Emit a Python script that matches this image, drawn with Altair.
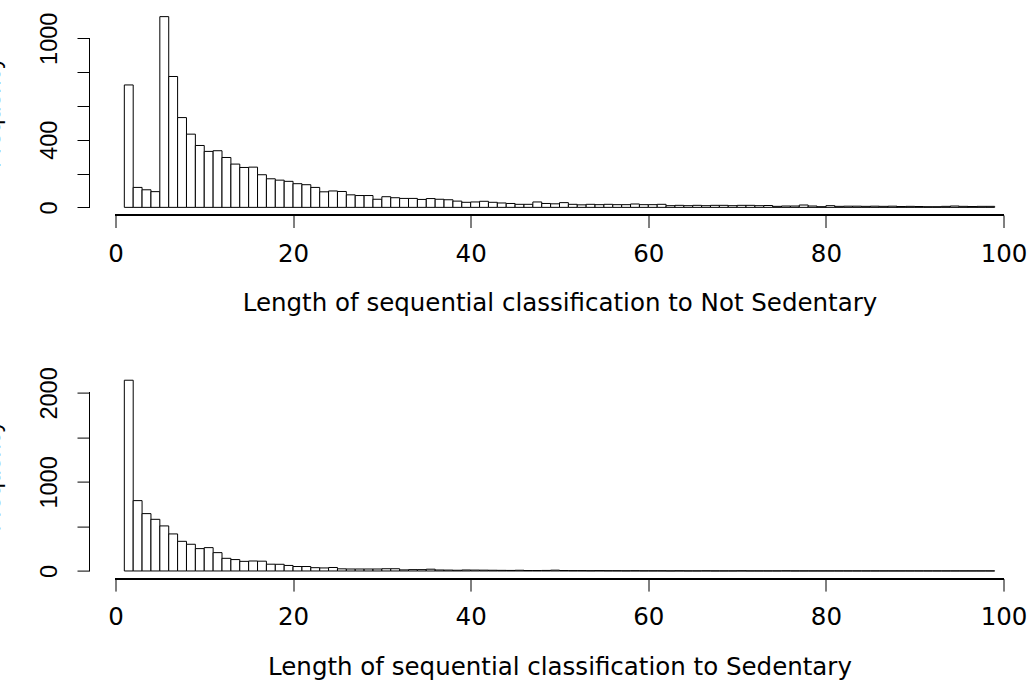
import altair as alt
import pandas as pd

# ---- data ----
bin_starts = list(range(1, 99))  # bins [k, k+1)

top_counts = [
    724, 118, 104, 93, 1128, 774, 531, 433, 366, 331,
    335, 295, 256, 236, 238, 193, 169, 161, 154, 140,
    134, 118, 92, 97, 94, 74, 70, 70, 48, 63,
    57, 53, 53, 47, 52, 48, 45, 37, 30, 32,
    36, 30, 26, 23, 18, 18, 32, 23, 21, 28,
    18, 15, 18, 16, 18, 16, 16, 20, 16, 16,
    18, 10, 12, 10, 12, 10, 12, 12, 10, 12,
    12, 10, 11, 6, 8, 8, 14, 8, 4, 10,
    6, 7, 7, 6, 7, 6, 7, 5, 6, 5,
    4, 4, 6, 8, 6, 5, 6, 6,
]

bottom_counts = [
    2142, 790, 644, 580, 506, 416, 333, 300, 251, 262,
    206, 142, 128, 108, 112, 110, 76, 75, 62, 50,
    50, 37, 34, 39, 24, 22, 22, 22, 22, 25,
    25, 12, 15, 15, 20, 11, 10, 8, 11, 10,
    9, 8, 7, 6, 8, 5, 5, 6, 9, 5,
    4, 4, 3, 4, 3, 3, 2, 3, 2, 2,
    2, 1, 2, 1, 1, 2, 1, 1, 1, 2,
    1, 1, 1, 1, 2, 1, 1, 1, 1, 1,
    1, 1, 1, 1, 1, 1, 1, 1, 1, 1,
    1, 1, 1, 1, 1, 1, 1, 1,
]

x_ticks = [0, 20, 40, 60, 80, 100]
top_y_ticks = [0, 200, 400, 600, 800, 1000]
top_y_labels = [0, 400, 1000]
bottom_y_ticks = [0, 500, 1000, 1500, 2000]
bottom_y_labels = [0, 1000, 2000]

top_xtitle = "Length of sequential classification to Not Sedentary"
bottom_xtitle = "Length of sequential classification to Sedentary"
y_title = "Frequency"

FONT = "Liberation Sans"
XFONT = "DejaVu Sans"
FS = 23.5
XFS = 24.5
W = 940
H = 206
TICK = 12.5


def panel(counts, y_ticks, y_labels, xtitle):
    ends = [b + 1 for b in bin_starts]
    df = pd.DataFrame({"start": bin_starts, "end": ends, "count": counts})
    x0, x1 = min(bin_starts), max(ends)
    xpad = 0.04 * (x1 - x0)
    xdom = [x0 - xpad, x1 + xpad]
    ymax = max(counts)
    ydom = [-0.04 * ymax, 1.04 * ymax]

    lab_list = ",".join(str(v) for v in y_labels)
    label_expr = f"indexof([{lab_list}], datum.value) >= 0 ? datum.label : ''"

    xaxis = alt.Axis(
        values=x_ticks, format="d", domain=False, grid=False, tickSize=TICK,
        tickColor="black", tickWidth=1, labelFont=XFONT, labelFontSize=XFS,
        labelColor="black", labelPadding=14.6, labelFlush=False, labelOverlap=False,
        title=xtitle, titleFont=XFONT, titleFontSize=XFS, titleFontWeight="normal",
        titleColor="black", titleY=95.5, titleBaseline="alphabetic",
    )
    yaxis = alt.Axis(
        values=y_ticks, format="d", labelExpr=label_expr, domain=False, grid=False,
        tickSize=TICK, tickColor="black", tickWidth=1,
        labelFont=FONT, labelFontSize=FS, labelColor="black",
        labelAngle=270, labelAlign="center", labelBaseline="alphabetic",
        labelPadding=21, labelOverlap=False, labelFlush=False,
        title=y_title, titleFont=FONT, titleFontSize=FS, titleFontWeight="normal",
        titleColor="black", titleAngle=270, titleAlign="center",
        titleBaseline="alphabetic", titleX=-90.5, titleY=H / 2,
    )

    bars = alt.Chart(df).mark_rect(fill="white", stroke="black", strokeWidth=1).encode(
        x=alt.X("start:Q", scale=alt.Scale(domain=xdom, nice=False, zero=False), axis=xaxis),
        x2="end:Q",
        y=alt.Y("count:Q", scale=alt.Scale(domain=ydom, nice=False, zero=False), axis=yaxis),
        y2=alt.Y2Datum(0),
    )
    xline = alt.Chart(df).mark_rule(color="black", strokeWidth=1).encode(
        x=alt.XDatum(min(x_ticks)),
        x2=alt.X2Datum(max(x_ticks)),
        y=alt.YDatum(ydom[0]),
    )
    yline = alt.Chart(df).mark_rule(color="black", strokeWidth=1).encode(
        x=alt.XDatum(xdom[0]),
        y=alt.YDatum(min(y_ticks)),
        y2=alt.Y2Datum(max(y_ticks)),
    )
    return alt.layer(bars, xline, yline).properties(width=W, height=H)


top = panel(top_counts, top_y_ticks, top_y_labels, top_xtitle)
bottom = panel(bottom_counts, bottom_y_ticks, bottom_y_labels, bottom_xtitle)

chart = alt.vconcat(top, bottom, spacing=157.6, bounds="flush").properties(
    padding={"left": -20.5, "top": 9, "right": 4, "bottom": 10},
    background="white",
).configure_view(strokeWidth=0)

chart.save("out.html", embed_options={"renderer": "svg", "actions": False})
